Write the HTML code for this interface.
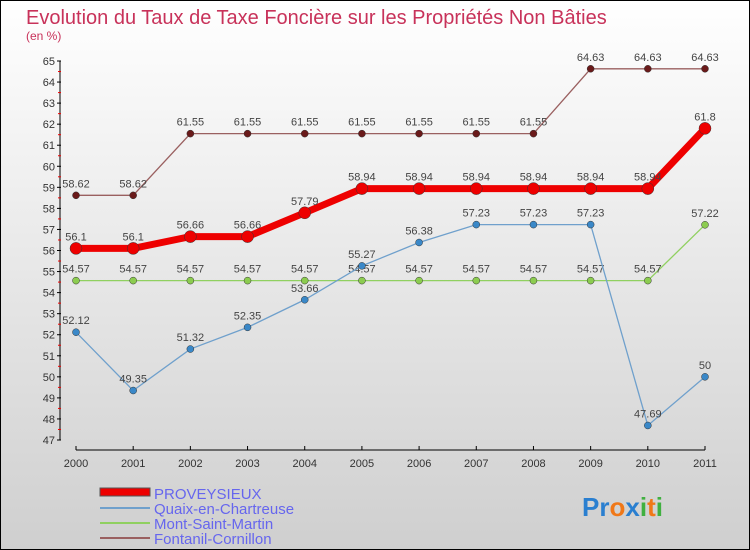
<!DOCTYPE html>
<html><head><meta charset="utf-8"><style>
body{margin:0}
svg{display:block;font-family:"Liberation Sans",sans-serif}
</style></head><body>
<svg width="750" height="550" viewBox="0 0 750 550">
<defs><linearGradient id="bg" x1="0" y1="0" x2="0" y2="1"><stop offset="0" stop-color="#ffffff"/><stop offset="1" stop-color="#cfcfcf"/></linearGradient></defs>
<rect x="0.5" y="0.5" width="749" height="549" fill="url(#bg)" stroke="#000"/>
<text x="26" y="24" font-size="20" fill="#c8325a">Evolution du Taux de Taxe Foncière sur les Propriétés Non Bâties</text>
<text x="26" y="40" font-size="12" fill="#c8325a">(en %)</text>
<g id="axes"></g>
<g id="series"></g>
<g>
<rect x="100" y="488" width="50" height="8" fill="#e00" stroke="#555" stroke-width="1"/>
<text x="154" y="499" font-size="15" fill="#6666ee">PROVEYSIEUX</text>
<line x1="100" y1="508" x2="150" y2="508" stroke="#6fa0cc" stroke-width="2"/>
<text x="154" y="514" font-size="15" fill="#6666ee">Quaix-en-Chartreuse</text>
<line x1="100" y1="523" x2="150" y2="523" stroke="#90d060" stroke-width="2"/>
<text x="154" y="529" font-size="15" fill="#6666ee">Mont-Saint-Martin</text>
<line x1="100" y1="538" x2="150" y2="538" stroke="#9a6060" stroke-width="2"/>
<text x="154" y="544" font-size="15" fill="#6666ee">Fontanil-Cornillon</text>
</g>
<text x="582" y="516" font-size="26" font-weight="bold"><tspan fill="#2a7fd0">Pr</tspan><tspan fill="#f07818">o</tspan><tspan fill="#2a7fd0">x</tspan><tspan fill="#40b040">i</tspan><tspan fill="#f07818">t</tspan><tspan fill="#40b040">i</tspan></text>
</svg>
<script>
const years=[2000,2001,2002,2003,2004,2005,2006,2007,2008,2009,2010,2011];
const proveysieux=[56.1,56.1,56.66,56.66,57.79,58.94,58.94,58.94,58.94,58.94,58.94,61.8];
const quaix=[52.12,49.35,51.32,52.35,53.66,55.27,56.38,57.23,57.23,57.23,47.69,50];
const mont=[54.57,54.57,54.57,54.57,54.57,54.57,54.57,54.57,54.57,54.57,54.57,57.22];
const fontanil=[58.62,58.62,61.55,61.55,61.55,61.55,61.55,61.55,61.55,64.63,64.63,64.63];
const yTicks=[47,48,49,50,51,52,53,54,55,56,57,58,59,60,61,62,63,64,65];
const NS="http://www.w3.org/2000/svg";
const x=i=>76+i*(705-76)/(years.length-1);
const y=v=>440-(v-47)*(440-61)/(65-47);
function mk(t,a,p){const e=document.createElementNS(NS,t);for(const k in a)e.setAttribute(k,a[k]);p.appendChild(e);return e;}
const ax=document.getElementById('axes');
let l=mk('line',{x1:60,y1:61,x2:60,y2:440,stroke:'#000'},ax);


yTicks.forEach(v=>{
 mk('line',{x1:57,y1:y(v),x2:61,y2:y(v),stroke:'#000'},ax);
 if(v<65){const r=mk('line',{x1:58,y1:y(v+0.5),x2:61,y2:y(v+0.5),stroke:'#e00'},ax);}
 const t=mk('text',{x:55,y:y(v)+4,'text-anchor':'end','font-size':11,fill:'#333'},ax);
 t.textContent=v;
 
 
});
l=mk('line',{x1:76,y1:450,x2:705,y2:450,stroke:'#000'},ax);


years.forEach((yr,i)=>{
 mk('line',{x1:x(i),y1:446,x2:x(i),y2:450,stroke:'#000'},ax);
 const t=mk('text',{x:x(i),y:467,'text-anchor':'middle','font-size':11,fill:'#333'},ax);
 t.textContent=yr;
 
 
});
const sg=document.getElementById('series');
function draw(vals,name,col,w,r,dot){
 const g=mk('g',{},sg);
 
 
 const p=mk('polyline',{points:vals.map((v,i)=>x(i)+','+y(v)).join(' '),fill:'none',stroke:col,'stroke-width':w},g);
 
 
 vals.forEach((v,i)=>{
  const c=mk('circle',{cx:x(i),cy:y(v),r:r,fill:dot,stroke:'#333','stroke-width':0.5},g);
  
  
  const t=mk('text',{x:x(i),y:y(v)-8,'text-anchor':'middle','font-size':11,fill:'#444'},g);
  t.textContent=v;
  
  
 });
}
draw(mont,'mont-saint-martin','#90d060',1.3,3.5,'#8ccc50');
draw(quaix,'quaix-en-chartreuse','#6fa0cc',1.3,3.5,'#3a88c8');
draw(fontanil,'fontanil-cornillon','#9a6060',1.3,3.5,'#6a1a1a');
draw(proveysieux,'proveysieux','#ee0000',7,6,'#ee0000');
</script>
</body></html>
